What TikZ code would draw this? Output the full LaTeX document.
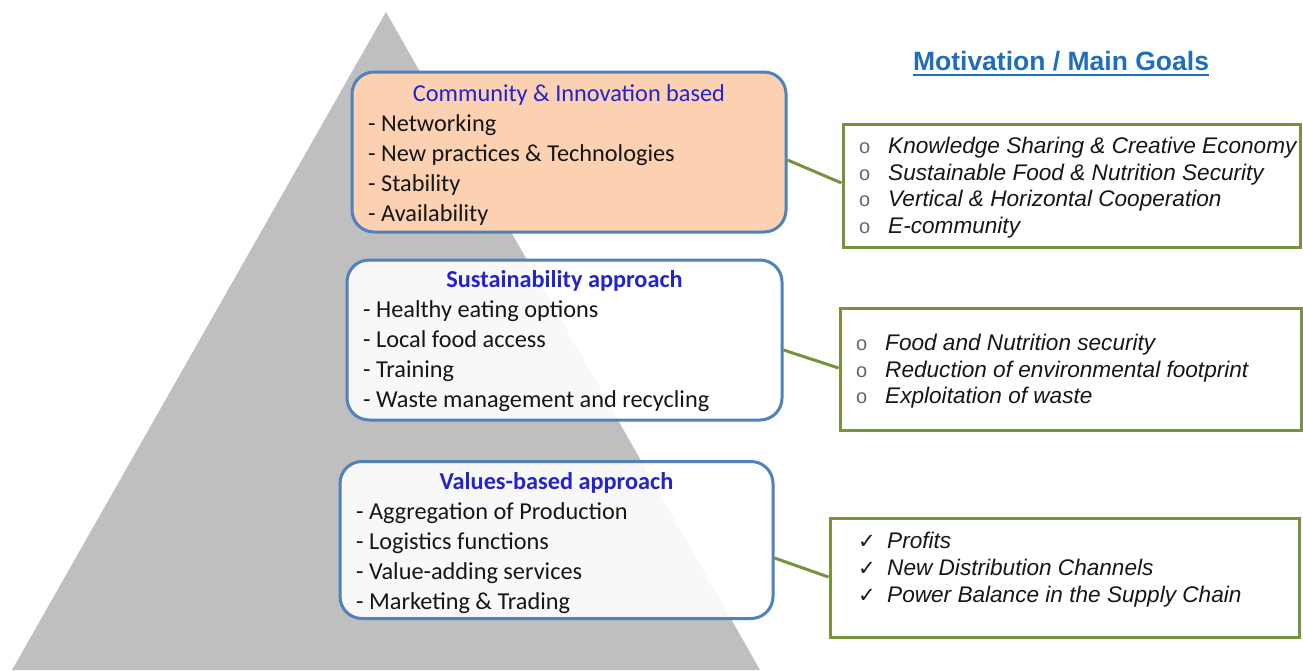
\documentclass[tikz,border=0pt]{standalone}
\usepackage{fontspec}
\setmainfont{Carlito}
\newfontfamily\arialf{Liberation Sans}
\newfontfamily\symf{DejaVu Sans}
\definecolor{trigray}{RGB}{191,191,191}
\definecolor{boxblue}{RGB}{79,129,189}
\definecolor{goalgreen}{RGB}{119,147,60}
\definecolor{peach}{RGB}{251,209,177}
\definecolor{headblue}{RGB}{36,36,204}
\definecolor{motblue}{RGB}{31,110,188}
\definecolor{txt}{RGB}{22,22,22}
\tikzset{
  lbox/.style={rectangle, rounded corners=22, draw=boxblue, line width=3, inner sep=0},
  gbox/.style={rectangle, draw=goalgreen, line width=3, fill=white, inner sep=0},
  lhead/.style={anchor=base, inner sep=0, text=headblue, font=\fontsize{24.3}{29}\selectfont},
  litem/.style={anchor=base west, inner sep=0, text=txt, font=\fontsize{24.3}{29}\selectfont},
  gitem/.style={anchor=base west, inner sep=0, text=txt, font=\arialf\itshape\fontsize{22.6}{27}\selectfont},
  gbul/.style={anchor=base west, inner sep=0, text=black!60, font=\arialf\fontsize{20}{24}\selectfont},
  gchk/.style={anchor=base west, inner sep=0, text=txt, font=\symf\fontsize{21}{24}\selectfont},
  conn/.style={draw=goalgreen, line width=3}
}
\begin{document}
\begin{tikzpicture}[x=1pt,y=-1pt]
\useasboundingbox (0,0) rectangle (1303,670);
\fill[white] (0,0) rectangle (1303,670);
% pyramid
\fill[trigray] (386,12) -- (12,670) -- (760,670) -- cycle;

% left boxes
\node[lbox, fill=peach, minimum width=434, minimum height=160] (b1) at (569,152) {};
\node[lbox, fill=white, fill opacity=0.9, minimum width=435, minimum height=160] (b2) at (564.5,340) {};
\node[lbox, fill=white, fill opacity=0.9, minimum width=433, minimum height=157] (b3) at (556.5,540) {};

% box 1 text
\node[lhead] (b1h) at (569,101) {Community \& Innovation based};
\foreach \t [count=\i] in {Networking, New practices \& Technologies, Stability, Availability}
  \node[litem] (b1l\i) at (368,101+30*\i) {- \t};

% box 2 text
\node[lhead, font=\bfseries\fontsize{24.3}{29}\selectfont] (b2h) at (564.5,287) {Sustainability approach};
\foreach \t [count=\i] in {Healthy eating options, Local food access, Training, Waste management and recycling}
  \node[litem] (b2l\i) at (363,287+30*\i) {- \t};

% box 3 text
\node[lhead, font=\bfseries\fontsize{24.3}{29}\selectfont] (b3h) at (556.5,489) {Values-based approach};
\foreach \t [count=\i] in {Aggregation of Production, Logistics functions, Value-adding services, Marketing \& Trading}
  \node[litem] (b3l\i) at (356,489+30*\i) {- \t};

% title
\node[anchor=base, inner sep=0, text=motblue, font=\arialf\bfseries\fontsize{26.5}{32}\selectfont] (ttl) at (1061,70) {Motivation / Main Goals};
\draw[motblue, line width=2] ([yshift=-5]ttl.base west) -- ([yshift=-5]ttl.base east);

% goal boxes
\node[gbox, minimum width=457, minimum height=123] (gA) at (1071.5,185.5) {};
\node[gbox, minimum width=461, minimum height=122] (gB) at (1070.5,369) {};
\node[gbox, minimum width=469, minimum height=119] (gC) at (1064.5,577.5) {};

\foreach \t/\yy [count=\i] in {Knowledge Sharing \& Creative Economy/153, Sustainable Food \& Nutrition Security/180, Vertical \& Horizontal Cooperation/206.5, E-community/233}{
  \node[gbul] (gAb\i) at (859,\yy) {o};
  \node[gitem] (gAl\i) at (888,\yy) {\t};
}
\foreach \t/\yy [count=\i] in {Food and Nutrition security/350, Reduction of environmental footprint/377, Exploitation of waste/403}{
  \node[gbul] (gBb\i) at (856,\yy) {o};
  \node[gitem] (gBl\i) at (885,\yy) {\t};
}
\foreach \t/\yy [count=\i] in {Profits/548, New Distribution Channels/575, Power Balance in the Supply Chain/602}{
  \node[gchk] (gCb\i) at (858,\yy) {✓};
  \node[gitem] (gCl\i) at (887,\yy) {\t};
}

% connectors
\draw[conn] ([yshift=-8]b1.east) -- ([yshift=2.5]gA.west);
\draw[conn] ([yshift=-10]b2.east) -- ([yshift=1]gB.west);
\draw[conn] ([yshift=-18]b3.east) -- ([yshift=0.5]gC.west);
\end{tikzpicture}
\end{document}
